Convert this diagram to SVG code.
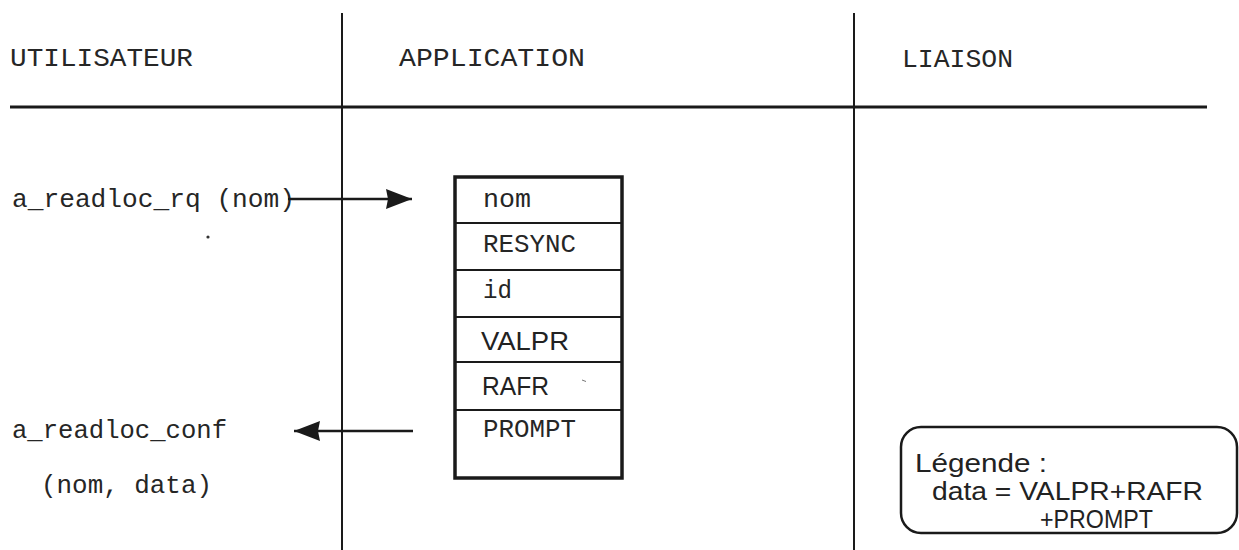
<svg xmlns="http://www.w3.org/2000/svg" width="1239" height="550" viewBox="0 0 1239 550">
<style>
.mono{font-family:"Liberation Mono","DejaVu Sans Mono",monospace;font-size:25px;fill:#262626}
.sans{font-family:"Liberation Sans",Arial,sans-serif;font-size:26px;fill:#222}
.leg{font-family:"Liberation Sans",Arial,sans-serif;font-size:25px;fill:#222}
.rule{stroke:#1a1a1a;fill:none}
.conn{stroke:#1a1a1a;stroke-width:2.5;fill:none}
</style>
<defs>
<marker id="ah" markerUnits="userSpaceOnUse" markerWidth="30" markerHeight="24" refX="26" refY="11" orient="auto">
<path d="M0,1 L26,11 L0,21 L2,11 z" fill="#1a1a1a"/>
</marker>
</defs>
<rect width="1239" height="550" fill="#ffffff"/>
<g id="grid">
<line class="rule" x1="342" y1="13" x2="342" y2="550" stroke-width="2"/>
<line class="rule" x1="854" y1="13" x2="854" y2="550" stroke-width="2"/>
<line class="rule" x1="10" y1="107" x2="1207" y2="107" stroke-width="3"/>
</g>
<g id="headers">
<text class="mono" x="10" y="66" textLength="183" lengthAdjust="spacingAndGlyphs">UTILISATEUR</text>
<text class="mono" x="399" y="66" textLength="186" lengthAdjust="spacingAndGlyphs">APPLICATION</text>
<text class="mono" x="902" y="67" textLength="111" lengthAdjust="spacingAndGlyphs">LIAISON</text>
</g>
<g id="user-labels">
<text class="mono" x="12" y="207" textLength="283" lengthAdjust="spacingAndGlyphs">a_readloc_rq (nom)</text>
<text class="mono" x="12" y="438" textLength="215" lengthAdjust="spacingAndGlyphs">a_readloc_conf</text>
<text class="mono" x="41" y="493" textLength="171" lengthAdjust="spacingAndGlyphs">(nom, data)</text>
<circle cx="208" cy="237" r="1.6" fill="#333"/>
</g>
<g id="record">
<rect x="455" y="177" width="167" height="301" fill="none" stroke="#1a1a1a" stroke-width="3.5"/>
<line class="rule" x1="455" y1="223" x2="622" y2="223" stroke-width="2.2"/>
<line class="rule" x1="455" y1="270" x2="622" y2="270" stroke-width="2.2"/>
<line class="rule" x1="455" y1="317" x2="622" y2="317" stroke-width="2.2"/>
<line class="rule" x1="455" y1="362" x2="622" y2="362" stroke-width="2.2"/>
<line class="rule" x1="455" y1="410" x2="622" y2="410" stroke-width="2.2"/>
<text class="mono" x="483" y="207" textLength="48" lengthAdjust="spacingAndGlyphs">nom</text>
<text class="mono" x="483" y="252" textLength="93" lengthAdjust="spacingAndGlyphs">RESYNC</text>
<text class="mono" x="483" y="298" textLength="29" lengthAdjust="spacingAndGlyphs">id</text>
<text class="sans" x="481" y="350" textLength="88" lengthAdjust="spacingAndGlyphs">VALPR</text>
<text class="sans" x="482" y="395" textLength="67" lengthAdjust="spacingAndGlyphs">RAFR</text>
<path d="M582,380 l4,1.5" stroke="#777" stroke-width="1"/>
<text class="mono" x="483" y="437" textLength="93" lengthAdjust="spacingAndGlyphs">PROMPT</text>
</g>
<g id="connectors">
<line class="conn" x1="288" y1="199" x2="412" y2="199" marker-end="url(#ah)"/>
<line class="conn" x1="413" y1="431" x2="294" y2="431" marker-end="url(#ah)"/>
</g>
<g id="legend">
<rect x="901" y="427" width="336" height="106" rx="20" ry="20" fill="none" stroke="#1a1a1a" stroke-width="2.5"/>
<text class="leg" x="915" y="472" textLength="132" lengthAdjust="spacingAndGlyphs">Légende :</text>
<text class="leg" x="932" y="500" textLength="271" lengthAdjust="spacingAndGlyphs">data = VALPR+RAFR</text>
<text class="leg" x="1040" y="528" textLength="113" lengthAdjust="spacingAndGlyphs">+PROMPT</text>
</g>
</svg>
